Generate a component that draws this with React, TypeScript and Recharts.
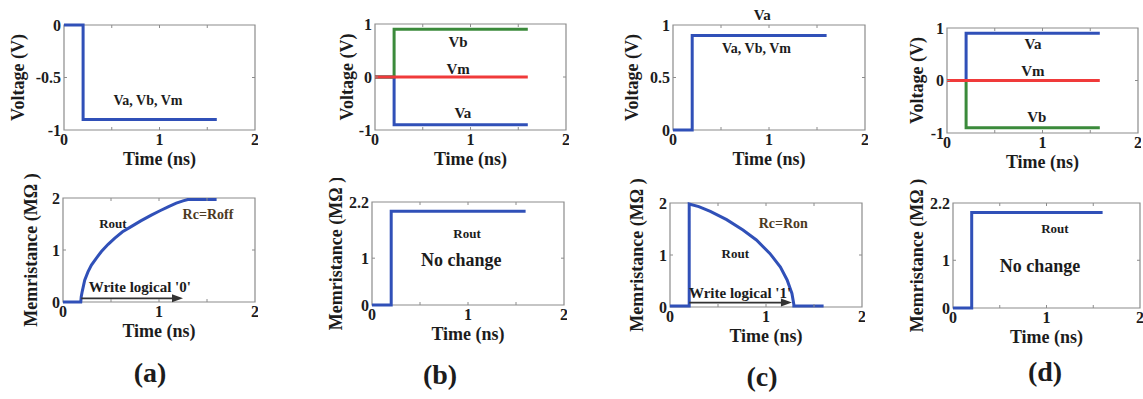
import React from 'react';
import { LineChart, Line, XAxis, YAxis, ReferenceArea, ReferenceDot, ReferenceLine } from 'recharts';

const FONT = "'Liberation Serif', 'Times New Roman', serif";
const BLUE = '#3050b8';
const GREEN = '#3b8a3b';
const RED = '#f03a3a';
const INK = '#1c1c1c';
const BOX = '#8c8c8c';
const BROWN = '#4d3a22';

const xTicks = [0, 0.5, 1, 1.5, 2];

// voltage steps (ns / V)
const stepTime = [0, 0.2, 0.2, 1.6];
const vDown = [0, 0, -0.9, -0.9];
const vUp = [0, 0, 0.9, 0.9];
const flatTime = [0, 1.6];
const vZero = [0, 0];

// memristance (MOhm)
const holdTime = [0, 0.2, 0.2, 1.6];
const rHold = [0, 0, 2.0, 2.0];
const rOffTime = [0, 0.185, 0.19, 0.2, 0.226, 0.26, 0.296, 0.35, 0.4, 0.47, 0.54, 0.62, 0.71, 0.81, 0.92, 1.01, 1.1, 1.18, 1.25, 1.3, 1.6];
const rOffVal = [0, 0, 0.1, 0.2, 0.42, 0.58, 0.71, 0.85, 0.97, 1.11, 1.23, 1.35, 1.45, 1.56, 1.67, 1.755, 1.835, 1.9, 1.945, 1.97, 1.97];
const rOnTime = [0, 0.2, 0.2, 0.3, 0.42, 0.59, 0.76, 0.9, 1.04, 1.15, 1.22, 1.27, 1.29, 1.29, 1.6];
const rOnVal = [0.02, 0.02, 1.98, 1.93, 1.84, 1.68, 1.48, 1.29, 1.03, 0.77, 0.52, 0.26, 0.05, 0.02, 0.02];

const toRows = (t: number[], v: number[]) => t.map((x, i) => ({ t: x, v: v[i] }));

type Series = { t: number[]; v: number[]; color: string };
type Note = { x: number; y: number; text: string; size: number; color?: string; weight?: string };
type Box = { x: number; y: number; w: number; h: number };

const ML = 70;
const MT = 24;
const MR = 3;
const XH = 48;

function Arrow(p: any) {
  const { x1, y1, x2, y2 } = p;
  return (
    <g>
      <line x1={x1} y1={y1} x2={x2 - 8} y2={y2} stroke="#333" strokeWidth={1.6} />
      <polygon points={`${x2},${y2} ${x2 - 11},${y2 - 4} ${x2 - 11},${y2 + 4}`} fill="#333" />
    </g>
  );
}

function Panel(props: {
  box: Box;
  yDomain: [number, number];
  yTicks: number[];
  yLabel: string;
  yGap: number;
  series: Series[];
  notes: Note[];
  arrow?: { from: number; to: number; y: number };
  title?: Note;
}) {
  const { box, yDomain, yTicks, yLabel, yGap, series, notes, arrow, title } = props;
  const left = ML;
  const right = ML + box.w;
  const top = MT;
  const bottom = MT + box.h;

  const XTick = (p: any) => {
    const v = p.payload.value;
    return (
      <g>
        {v > 0 && v < 2 && (
          <>
            <line x1={p.x} x2={p.x} y1={bottom} y2={bottom - 3} stroke={BOX} />
            <line x1={p.x} x2={p.x} y1={top} y2={top + 3} stroke={BOX} />
          </>
        )}
        {Number.isInteger(v) && (
          <text x={p.x} y={bottom + 4} dy="0.71em" textAnchor="middle" fontSize={16} fontWeight="bold" fontFamily={FONT} fill={INK}>
            {v}
          </text>
        )}
      </g>
    );
  };

  const YTick = (p: any) => {
    const v = p.payload.value;
    const inner = v !== yDomain[0] && v !== yDomain[1];
    return (
      <g>
        {inner && (
          <>
            <line x1={left} x2={left + 3} y1={p.y} y2={p.y} stroke={BOX} />
            <line x1={right} x2={right - 3} y1={p.y} y2={p.y} stroke={BOX} />
          </>
        )}
        <text x={left - 3} y={p.y} dy="0.36em" textAnchor="end" fontSize={16} fontWeight="bold" fontFamily={FONT} fill={INK}>
          {v}
        </text>
      </g>
    );
  };

  const yLab = () => {
    const cx = left - yGap;
    const cy = (top + bottom) / 2;
    return (
      <text x={cx} y={cy} dy="0.36em" transform={`rotate(-90, ${cx}, ${cy})`} textAnchor="middle" fontSize={18} fontWeight="bold" fontFamily={FONT} fill={INK}>
        {yLabel}
      </text>
    );
  };

  const xLab = () => (
    <text x={(left + right) / 2} y={bottom + 35} textAnchor="middle" fontSize={18} fontWeight="bold" fontFamily={FONT} fill={INK}>
      Time (ns)
    </text>
  );

  const noteShape = (n: Note) => (p: any) => (
    <text x={p.cx} y={p.cy} dy="0.36em" textAnchor="middle" fontSize={n.size} fontWeight={n.weight ?? 'bold'} fontFamily={FONT} fill={n.color ?? INK}>
      {n.text}
    </text>
  );

  return (
    <div style={{ position: 'absolute', left: box.x - ML, top: box.y - MT }}>
      <LineChart width={ML + box.w + MR} height={MT + box.h + XH} margin={{ top: MT, right: MR, bottom: 0, left: 0 }}>
        <XAxis type="number" dataKey="t" domain={[0, 2]} ticks={xTicks} tick={XTick} tickLine={false} axisLine={false} height={XH} interval={0} label={xLab} />
        <YAxis type="number" domain={yDomain} ticks={yTicks} tick={YTick} tickLine={false} axisLine={false} width={ML} interval={0} label={yLab} />
        <ReferenceArea x1={0} x2={2} y1={yDomain[0]} y2={yDomain[1]} fill="none" stroke={BOX} strokeWidth={1.2} />
        {series.map((s, i) => (
          <Line key={i} data={toRows(s.t, s.v)} dataKey="v" type="linear" stroke={s.color} strokeWidth={3} dot={false} isAnimationActive={false} />
        ))}
        {arrow && (
          <ReferenceLine
            segment={[{ x: arrow.from, y: arrow.y }, { x: arrow.to, y: arrow.y }]}
            shape={Arrow}
            ifOverflow="visible"
          />
        )}
        {notes.map((n, i) => (
          <ReferenceDot key={i} x={n.x} y={n.y} r={0} ifOverflow="visible" shape={noteShape(n)} />
        ))}
        {title && <ReferenceDot x={title.x} y={title.y} r={0} ifOverflow="visible" shape={noteShape(title)} />}
      </LineChart>
    </div>
  );
}

const V = 'Voltage (V)';
const M = 'Memristance (MΩ )';

const tagStyle = (x: number, y: number): React.CSSProperties => ({
  position: 'absolute',
  left: x - 30,
  top: y - 18,
  width: 60,
  textAlign: 'center',
  fontFamily: FONT,
  fontWeight: 'bold',
  fontSize: 28,
  lineHeight: '36px',
  color: INK,
});

export default function App() {
  return (
    <div style={{ position: 'absolute', left: 0, top: 0, width: 1143, height: 399, overflow: 'hidden', background: '#fff' }}>
      {/* (a) write '0' */}
      <Panel
        box={{ x: 64, y: 25, w: 191, h: 105 }}
        yDomain={[-1, 0]}
        yTicks={[-1, -0.5, 0]}
        yLabel={V}
        yGap={46}
        series={[{ t: stepTime, v: vDown, color: BLUE }]}
        notes={[{ x: 0.88, y: -0.71, text: 'Va, Vb, Vm', size: 14 }]}
      />
      <Panel
        box={{ x: 63, y: 198, w: 192, h: 104 }}
        yDomain={[0, 2]}
        yTicks={[0, 1, 2]}
        yLabel={M}
        yGap={32}
        series={[{ t: rOffTime, v: rOffVal, color: BLUE }]}
        notes={[
          { x: 0.52, y: 1.52, text: 'Rout', size: 13 },
          { x: 1.51, y: 1.7, text: 'Rc=Roff', size: 14, color: BROWN },
          { x: 0.8, y: 0.29, text: "Write logical '0'", size: 15 },
        ]}
        arrow={{ from: 0.19, to: 1.25, y: 0.07 }}
      />
      {/* (b) */}
      <Panel
        box={{ x: 375, y: 24, w: 191, h: 106 }}
        yDomain={[-1, 1]}
        yTicks={[-1, 0, 1]}
        yLabel={V}
        yGap={28}
        series={[
          { t: stepTime, v: vDown, color: BLUE },
          { t: stepTime, v: vUp, color: GREEN },
          { t: flatTime, v: vZero, color: RED },
        ]}
        notes={[
          { x: 0.87, y: 0.67, text: 'Vb', size: 15 },
          { x: 0.87, y: 0.16, text: 'Vm', size: 15 },
          { x: 0.92, y: -0.68, text: 'Va', size: 15 },
        ]}
      />
      <Panel
        box={{ x: 372, y: 202, w: 192, h: 103 }}
        yDomain={[0, 2.2]}
        yTicks={[0, 1, 2.2]}
        yLabel={M}
        yGap={36}
        series={[{ t: holdTime, v: rHold, color: BLUE }]}
        notes={[
          { x: 0.99, y: 1.53, text: 'Rout', size: 13 },
          { x: 0.93, y: 0.98, text: 'No change', size: 18 },
        ]}
      />
      {/* (c) write '1' */}
      <Panel
        box={{ x: 673, y: 25, w: 192, h: 105 }}
        yDomain={[0, 1]}
        yTicks={[0, 0.5, 1]}
        yLabel={V}
        yGap={41}
        series={[{ t: stepTime, v: vUp, color: BLUE }]}
        notes={[{ x: 0.87, y: 0.78, text: 'Va, Vb, Vm', size: 14 }]}
        title={{ x: 0.93, y: 1.095, text: 'Va', size: 15 }}
      />
      <Panel
        box={{ x: 670, y: 203, w: 192, h: 104 }}
        yDomain={[0, 2]}
        yTicks={[0, 1, 2]}
        yLabel={M}
        yGap={33}
        series={[{ t: rOnTime, v: rOnVal, color: BLUE }]}
        notes={[
          { x: 1.18, y: 1.61, text: 'Rc=Ron', size: 14, color: BROWN },
          { x: 0.68, y: 1.03, text: 'Rout', size: 13 },
          { x: 0.73, y: 0.28, text: "Write logical '1'", size: 15 },
        ]}
        arrow={{ from: 0.2, to: 1.27, y: 0.085 }}
      />
      {/* (d) */}
      <Panel
        box={{ x: 947, y: 28, w: 191, h: 105 }}
        yDomain={[-1, 1]}
        yTicks={[-1, 0, 1]}
        yLabel={V}
        yGap={30}
        series={[
          { t: stepTime, v: vDown, color: GREEN },
          { t: stepTime, v: vUp, color: BLUE },
          { t: flatTime, v: vZero, color: RED },
        ]}
        notes={[
          { x: 0.9, y: 0.71, text: 'Va', size: 15 },
          { x: 0.9, y: 0.19, text: 'Vm', size: 15 },
          { x: 0.94, y: -0.69, text: 'Vb', size: 15 },
        ]}
      />
      <Panel
        box={{ x: 953, y: 203, w: 187, h: 105 }}
        yDomain={[0, 2.2]}
        yTicks={[0, 1, 2.2]}
        yLabel={M}
        yGap={36}
        series={[{ t: holdTime, v: rHold, color: BLUE }]}
        notes={[
          { x: 1.09, y: 1.67, text: 'Rout', size: 13 },
          { x: 0.93, y: 0.9, text: 'No change', size: 18 },
        ]}
      />
      <div style={tagStyle(150, 373)}>(a)</div>
      <div style={tagStyle(440, 375)}>(b)</div>
      <div style={tagStyle(762, 377)}>(c)</div>
      <div style={tagStyle(1045, 372)}>(d)</div>
    </div>
  );
}
